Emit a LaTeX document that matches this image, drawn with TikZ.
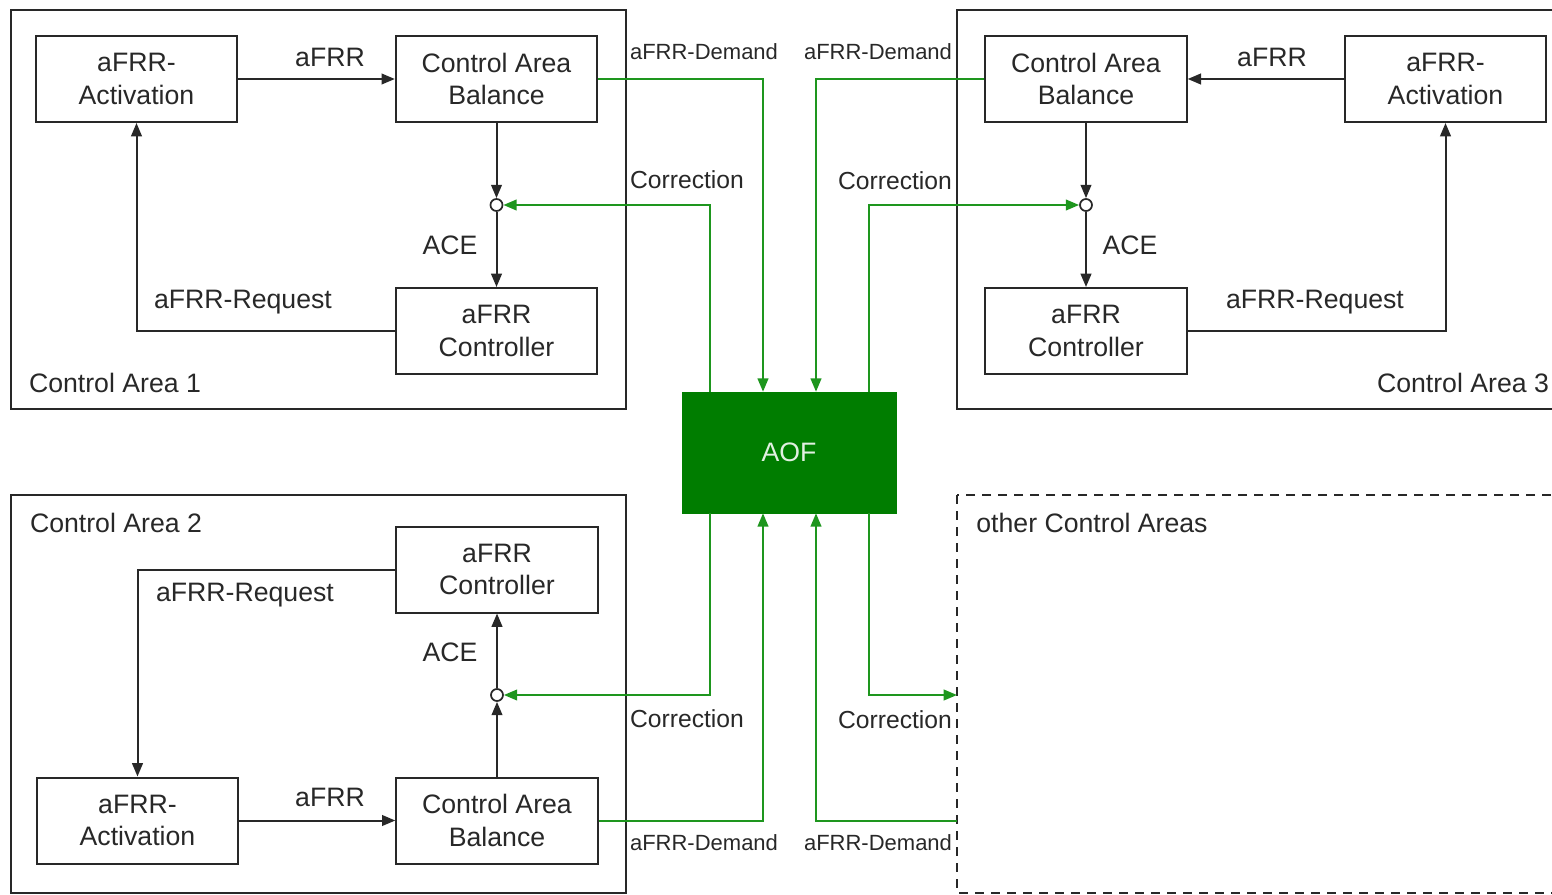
\documentclass[tikz,border=0pt]{standalone}
\usepackage{xcolor}
\usepackage{fontspec}
\setmainfont{Liberation Sans}
\usetikzlibrary{arrows.meta}

\definecolor{lineGrey}{RGB}{40,40,40}
\definecolor{aofGreen}{RGB}{0,125,0}
\definecolor{linkGreen}{RGB}{30,150,30}

\tikzset{
  blk/.style={draw=lineGrey,line width=1.5pt,fill=white,minimum width=151pt,minimum height=64.5pt,align=center,inner sep=0pt,font=\fontsize{20}{24.5}\selectfont,text=lineGrey},
  sumpt/.style={circle,draw=lineGrey,line width=1.3pt,fill=white,minimum size=9pt,inner sep=0pt},
  lbl/.style={inner sep=0.75pt,font=\fontsize{20}{24}\selectfont,text=lineGrey},
  glbl/.style={inner sep=0.75pt,text=lineGrey},
  frm/.style={draw=lineGrey,line width=1.5pt},
  bline/.style={draw=lineGrey,line width=1.5pt,-{Triangle[length=10pt,width=8pt]}},
  gline/.style={draw=linkGreen,line width=1.5pt},
  garr/.style={gline,-{Triangle[length=10pt,width=8pt]}}
}

\begin{document}
\begin{tikzpicture}[x=0.75pt,y=0.75pt,yscale=-1,xscale=1]
\useasboundingbox (0,0) rectangle (1552,895);

%Frames
\draw [frm] (11,10) rectangle (626,409);
\draw [frm] (957,10) rectangle (1560,409);
\draw [frm] (11,495) rectangle (626,893);
\draw [frm,dashed,dash pattern=on 7pt off 5pt] (957,495) rectangle (1560,893);
\coordinate (ow) at (957,495);

% Control Area 1
\node [blk] (act1) at (136.5,79) {aFRR-\\Activation};
\node [blk] (bal1) at (496.5,79) {Control Area\\Balance};
\node [sumpt] (c1) at (496.5,205) {};
\node [blk] (ctl1) at (496.5,331) {aFRR\\Controller};
\draw [bline] (act1) -- (bal1);
\draw [bline] (bal1) -- (c1);
\draw [bline] (c1) -- (ctl1);
\draw [bline] (ctl1.west) -| (act1.south);

% Control Area 3
\node [blk] (bal3) at (1086,79) {Control Area\\Balance};
\node [blk] (act3) at (1445.5,79) {aFRR-\\Activation};
\node [sumpt] (c3) at (1086,205) {};
\node [blk] (ctl3) at (1086,331) {aFRR\\Controller};
\draw [bline] (act3) -- (bal3);
\draw [bline] (bal3) -- (c3);
\draw [bline] (c3) -- (ctl3);
\draw [bline] (ctl3.east) -| (act3.south);

% Control Area 2
\node [blk] (ctl2) at (497,569.5) {aFRR\\Controller};
\node [sumpt] (c2) at (497,695) {};
\node [blk] (bal2) at (497,820.5) {Control Area\\Balance};
\node [blk] (act2) at (137.5,820.5) {aFRR-\\Activation};
\draw [bline] (act2) -- (bal2);
\draw [bline] (bal2) -- (c2);
\draw [bline] (c2) -- (ctl2);
\draw [bline] (ctl2.west) -| (act2.north);

% AOF
\node [draw=aofGreen,fill=aofGreen,minimum width=160.5pt,minimum height=90.75pt,inner sep=0pt,text={rgb,255:red,225;green,240;blue,225},font=\fontsize{20}{24}\selectfont] (aof) at (789,452.5) {AOF};

%Green links
\draw [garr] (bal1.east) -| ([xshift=-19.5pt]aof.north);
\draw [garr] (bal3.west) -| ([xshift=20.25pt]aof.north);
\draw [garr] ([xshift=-59.25pt]aof.north) |- (c1);
\draw [garr] ([xshift=60pt]aof.north) |- (c3);
\draw [garr] (bal2.east) -| ([xshift=-19.5pt]aof.south);
\draw [garr] (ow |- bal2) -| ([xshift=20.25pt]aof.south);
\draw [garr] ([xshift=-59.25pt]aof.south) |- (c2);
\draw [garr] ([xshift=60pt]aof.south) |- (ow |- c2);

% Text Node
\node [lbl] (t1) at (330,57) {aFRR};
\node [lbl] (t2) at (450,245) {ACE};
\node [lbl] (t3) at (243,302) {aFRR-Request};
\node [lbl] (t4) at (115,383) {Control Area 1};
% Text Node
\node [lbl] (t5) at (1272,57) {aFRR};
\node [lbl] (t6) at (1130,245) {ACE};
\node [lbl] (t7) at (1315,302) {aFRR-Request};
\node [lbl] (t8) at (1463,383) {Control Area 3};
% Text Node
\node [lbl] (t9) at (116,523) {Control Area 2};
\node [lbl] (t10) at (245,595) {aFRR-Request};
\node [lbl] (t11) at (450,652) {ACE};
\node [lbl] (t12) at (330,797) {aFRR};
\node [lbl] (t13) at (1092,523) {other Control Areas};
% Text Node
\node [glbl,font=\fontsize{16.5}{19}\selectfont] (d1) at (704,52) {aFRR-Demand};
\node [glbl,font=\fontsize{16.5}{19}\selectfont] (d3) at (878,52) {aFRR-Demand};
\node [glbl,font=\fontsize{16.5}{19}\selectfont] (d2) at (704,843) {aFRR-Demand};
\node [glbl,font=\fontsize{16.5}{19}\selectfont] (d4) at (878,843) {aFRR-Demand};
\node [glbl,font=\fontsize{18.5}{21}\selectfont] (k1) at (687,180) {Correction};
\node [glbl,font=\fontsize{18.5}{21}\selectfont] (k3) at (895,181) {Correction};
\node [glbl,font=\fontsize{18.5}{21}\selectfont] (k2) at (687,719) {Correction};
\node [glbl,font=\fontsize{18.5}{21}\selectfont] (k4) at (895,720) {Correction};

\end{tikzpicture}
\end{document}
